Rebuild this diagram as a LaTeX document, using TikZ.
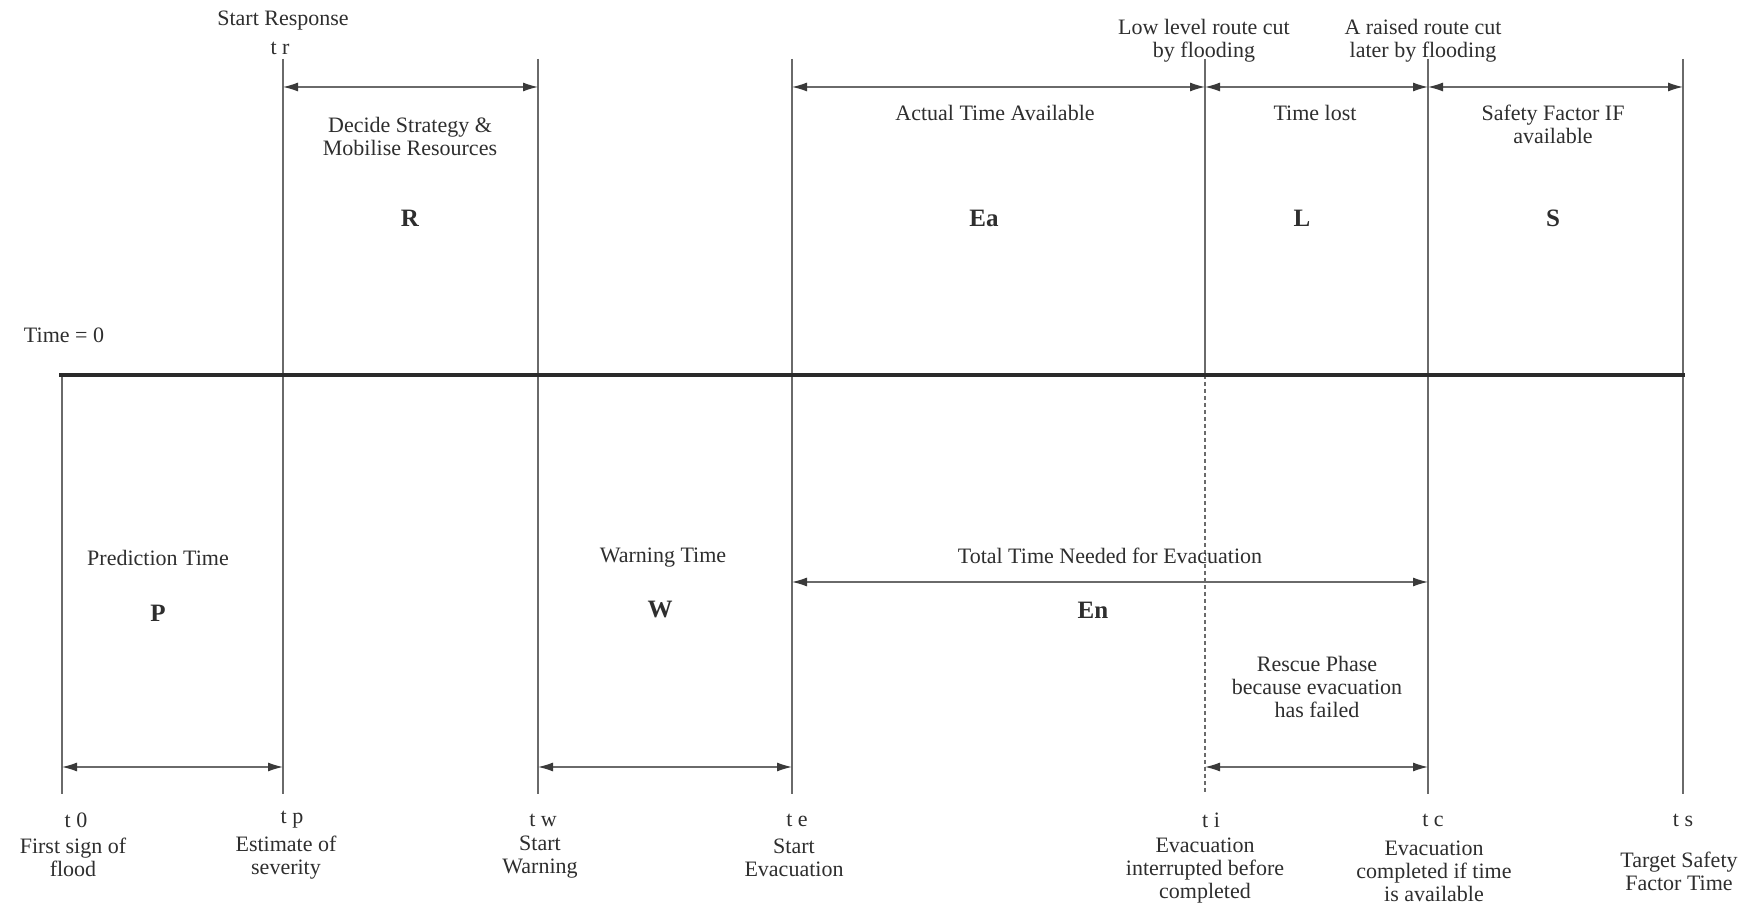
\documentclass[tikz,border=0pt]{standalone}
\usepackage{fontspec}
\setmainfont{Liberation Serif}
\usetikzlibrary{arrows.meta}
\definecolor{linegray}{HTML}{6A6A6A}
\definecolor{tipcol}{HTML}{3A3A3A}
\definecolor{txt}{HTML}{2E2E2E}
\definecolor{axis}{HTML}{2A2A2A}
\begin{document}
\begin{tikzpicture}[x=0.5pt,y=-0.5pt,
  vline/.style={draw=linegray, line width=0.7pt},
  dotline/.style={draw=linegray, line width=0.7pt, dash pattern=on 2pt off 1.5pt},
  dim/.style={draw=linegray, line width=0.6pt, {Latex[length=7.5pt,width=4.5pt,color=tipcol]}-{Latex[length=7.5pt,width=4.5pt,color=tipcol]}},
  lbl/.style={text=txt, font=\fontsize{11}{11.5}\selectfont, align=center, inner sep=0pt},
  big/.style={text=txt, font=\fontsize{12.5}{14}\selectfont\bfseries, inner sep=0pt}]
\useasboundingbox[fill=white] (0,0) rectangle (1753,903);

% vertical line ends
\coordinate (t0top) at (62,375);   \coordinate (t0bot) at (62,794);
\coordinate (trtop) at (283,59);   \coordinate (trbot) at (283,794);
\coordinate (twtop) at (538,59);   \coordinate (twbot) at (538,794);
\coordinate (tetop) at (792,59);   \coordinate (tebot) at (792,794);
\coordinate (titop) at (1205,59);  \coordinate (timid) at (1205,375); \coordinate (tibot) at (1205,794);
\coordinate (tctop) at (1428,59);  \coordinate (tcbot) at (1428,794);
\coordinate (tstop) at (1683,59);  \coordinate (tsbot) at (1683,794);
% levels of the dimension arrows
\coordinate (yup) at (0,87);
\coordinate (yen) at (0,582);
\coordinate (ylow) at (0,767);
% time axis
\coordinate (axl) at (59,375);
\coordinate (axr) at (1685,375);

\draw[vline] (t0top) -- (t0bot);
\draw[vline] (trtop) -- (trbot);
\draw[vline] (twtop) -- (twbot);
\draw[vline] (tetop) -- (tebot);
\draw[vline] (titop) -- (timid);
\draw[dotline] (timid) -- (tibot);
\draw[vline] (tctop) -- (tcbot);
\draw[vline] (tstop) -- (tsbot);
\draw[draw=axis, line width=2pt] (axl) -- (axr);

% upper dimension arrows
\draw[dim] (trtop |- yup) -- (twtop |- yup);
\draw[dim] (tetop |- yup) -- (titop |- yup);
\draw[dim] (titop |- yup) -- (tctop |- yup);
\draw[dim] (tctop |- yup) -- (tstop |- yup);
% total time needed
\draw[dim] (tetop |- yen) -- (tctop |- yen);
% lower dimension arrows
\draw[dim] (t0top |- ylow) -- (trtop |- ylow);
\draw[dim] (twtop |- ylow) -- (tetop |- ylow);
\draw[dim] (titop |- ylow) -- (tctop |- ylow);

% upper labels
\node[lbl] (sr) at (283,21) {Start Response};
\node[lbl] (tr) at (280,48) {t r};
\node[lbl] (dec) at (410,136.5) {Decide Strategy \&\\Mobilise Resources};
\node[lbl] (ata) at (995,113) {Actual Time Available};
\node[lbl] (low) at (1204,41) {Low level route cut\\by flooding};
\node[lbl] (rai) at (1423,41) {A raised route cut\\later by flooding};
\node[lbl] (tl) at (1315,113) {Time lost};
\node[lbl] (sf) at (1553,124) {Safety Factor IF\\available};
\node[big] (R) at (410,218) {R};
\node[big] (Ea) at (984,218) {Ea};
\node[big] (L) at (1302,218) {L};
\node[big] (S) at (1553,218) {S};
\node[lbl] (time0) at (64,335) {Time = 0};

% lower labels
\node[lbl] (pt) at (158,558) {Prediction Time};
\node[big] (P) at (158,613) {P};
\node[lbl] (wt) at (663,558) {Warning Time};
\node[big] (W) at (660,610) {W};
\node[lbl] (tt) at (1110,556) {Total Time Needed for Evacuation};
\node[big] (En) at (1093,610) {En};
\node[lbl] (rp) at (1317,687) {Rescue Phase\\because evacuation\\has failed};

% time marks
\node[lbl] (lt0) at (76,820) {t 0};
\node[lbl] (ltp) at (292,820) {t p};
\node[lbl] (ltw) at (543,820) {t w};
\node[lbl] (lte) at (797,820) {t e};
\node[lbl] (lti) at (1211,820) {t i};
\node[lbl] (ltc) at (1433,820) {t c};
\node[lbl] (lts) at (1683,820) {t s};

% bottom descriptions
\node[lbl] (d0) at (73,857.5) {First sign of\\flood};
\node[lbl] (dp) at (286,857.5) {Estimate of\\severity};
\node[lbl] (dw) at (540,857.5) {Start\\Warning};
\node[lbl] (de) at (794,857.5) {Start\\Evacuation};
\node[lbl] (di) at (1205,871) {Evacuation\\interrupted before\\completed};
\node[lbl] (dc) at (1434,871) {Evacuation\\completed if time\\is available};
\node[lbl] (ds) at (1679,871) {Target Safety\\Factor Time};
\end{tikzpicture}
\end{document}
